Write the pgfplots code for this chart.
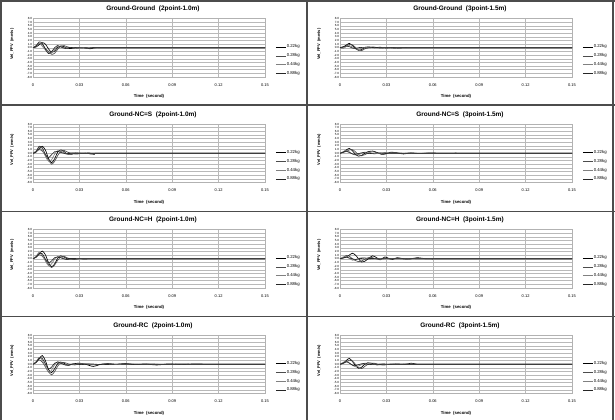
\documentclass[border=0pt]{standalone}
\usepackage{fontspec}
\setmainfont{Liberation Sans}
\usepackage{pgfplots}
\pgfplotsset{compat=1.18}
\newcommand\ptitle[1]{\node[anchor=center, font=\fontsize{6.5}{7}\selectfont\bfseries] at (rel axis cs:0.517,1.16) {#1};}
\pgfplotsset{
  panel/.style={
    width=232bp, height=58.5bp, scale only axis, anchor=south west, clip=false,
    xmin=0, xmax=0.15, ymin=-8, ymax=8,
    xtick={0,0.03,0.06,0.09,0.12,0.15},
    xticklabels={0,0.03,0.06,0.09,0.12,0.15},
    ytick={-8,-7,-6,-5,-4,-3,-2,-1,0,1,2,3,4,5,6,7,8},
    yticklabels={-8.0,-7.0,-6.0,-5.0,-4.0,-3.0,-2.0,-1.0,0.0,1.0,2.0,3.0,4.0,5.0,6.0,7.0,8.0},
    grid=major, major grid style={gray!55, line width=0.4bp},
    axis line style={gray!60, line width=0.4bp},
    tick style={draw=none},
    xticklabel style={font=\fontsize{4}{4.5}\selectfont, yshift=-3bp},
    yticklabel style={font=\fontsize{3}{3.2}\selectfont, inner sep=0.8bp},
    xlabel={\textbf{Time\ \ (second)}},
    xlabel style={at={(axis description cs:0.5,-0.34)}, anchor=center, font=\fontsize{4.3}{5}\selectfont},
    ylabel={\textbf{Vel\_PPV\ \ (mm/s)}},
    ylabel style={at={(axis description cs:-0.09,0.56)}, anchor=center, font=\fontsize{4}{5}\selectfont},
    legend style={at={(axis description cs:1.045,0.565)}, anchor=north west, draw=none, fill=none,
      font=\fontsize{4.3}{5}\selectfont, inner sep=0pt, row sep=3.3bp,
      nodes={inner sep=0.5bp}, cells={anchor=west}},
    legend image code/.code={\draw[#1] (0bp,0bp) -- (10bp,0bp);},
    every axis plot/.append style={smooth, tension=0.5, line width=0.65bp},
    cycle list={{black},{black!70},{black!50},{black!85}},
  }
}
\begin{document}
\begin{tikzpicture}
\useasboundingbox (0bp,0bp) rectangle (615bp,420bp);
% ---------- Row 1 ----------
\begin{axis}[panel, at={(33bp,343bp)}]
\addplot coordinates {(0,0)(0.002,0.2)(0.004,0.8)(0.006,1.4)(0.008,1.0)(0.010,-0.3)(0.012,-1.2)(0.014,-0.9)(0.016,0.1)(0.018,0.5)(0.020,0.3)(0.022,-0.1)(0.025,-0.2)(0.028,0.1)(0.032,0.0)(0.036,-0.2)(0.040,0.05)(0.045,0)(0.150,0)};
\addplot coordinates {(0,0)(0.002,0.4)(0.004,1.1)(0.006,0.9)(0.008,-0.2)(0.010,-1.0)(0.012,-1.8)(0.014,-1.5)(0.016,-0.4)(0.018,0.4)(0.020,0.6)(0.022,0.3)(0.025,-0.1)(0.028,-0.1)(0.032,0.1)(0.037,-0.3)(0.042,0.1)(0.048,0)(0.150,0)};
\addplot coordinates {(0,0)(0.002,0.6)(0.004,1.3)(0.006,0.4)(0.008,-0.6)(0.010,-1.3)(0.012,-1.5)(0.014,-0.5)(0.016,0.4)(0.018,0.3)(0.021,-0.1)(0.024,0.1)(0.028,-0.1)(0.033,0.05)(0.040,0)(0.150,0)};
\addplot coordinates {(0,0)(0.002,0.5)(0.004,1.6)(0.006,1.2)(0.008,-0.4)(0.010,-1.6)(0.012,-1.1)(0.014,0.0)(0.016,0.6)(0.018,0.2)(0.021,-0.2)(0.024,0.1)(0.029,-0.1)(0.035,0.0)(0.038,-0.2)(0.044,0)(0.150,0)};
\legend{0.22kg,0.28kg,0.44kg,0.88kg}
\ptitle{Ground-Ground\ \ (2point-1.0m)}
\end{axis}
\begin{axis}[panel, at={(340bp,343bp)}]
\addplot coordinates {(0,0)(0.002,0.2)(0.004,0.7)(0.006,1.2)(0.008,0.6)(0.010,-0.2)(0.012,-0.7)(0.014,-0.5)(0.016,0.1)(0.019,0.2)(0.022,0.0)(0.026,0.15)(0.030,-0.1)(0.034,0.1)(0.038,-0.1)(0.043,0.05)(0.048,0)(0.150,0)};
\addplot coordinates {(0,0)(0.002,0.1)(0.004,0.4)(0.006,0.9)(0.008,0.8)(0.010,0.1)(0.012,-0.6)(0.014,-0.8)(0.016,-0.3)(0.019,0.1)(0.022,0.2)(0.026,-0.1)(0.030,0.1)(0.035,-0.15)(0.040,0.05)(0.046,0)(0.150,0)};
\addplot coordinates {(0,0)(0.002,-0.2)(0.004,0.3)(0.006,0.6)(0.008,0.2)(0.010,-0.3)(0.012,-0.4)(0.015,0.0)(0.018,0.2)(0.021,0.0)(0.025,-0.1)(0.030,0.1)(0.036,0)(0.150,0)};
\addplot coordinates {(0,0)(0.002,0.3)(0.004,0.5)(0.006,0.3)(0.008,-0.1)(0.010,-0.2)(0.013,0.1)(0.017,-0.1)(0.022,0.1)(0.028,-0.05)(0.034,0)(0.150,0)};
\legend{0.22kg,0.28kg,0.44kg,0.88kg}
\ptitle{Ground-Ground\ \ (3point-1.5m)}
\end{axis}
% ---------- Row 2 ----------
\begin{axis}[panel, at={(33bp,237.5bp)}]
\addplot coordinates {(0,0)(0.002,0.3)(0.004,1.2)(0.006,1.9)(0.008,0.9)(0.010,-1.4)(0.012,-2.6)(0.014,-1.5)(0.016,0.3)(0.018,0.9)(0.020,0.5)(0.022,-0.2)(0.025,-0.3)(0.028,0.1)(0.032,-0.1)(0.036,0.1)(0.040,-0.3)(0.044,0)(0.150,0)};
\addplot coordinates {(0,0)(0.002,0.5)(0.004,1.0)(0.006,0.6)(0.008,-0.5)(0.010,-1.8)(0.012,-3.0)(0.014,-2.2)(0.016,-0.6)(0.018,0.5)(0.020,0.8)(0.022,0.4)(0.025,-0.1)(0.029,-0.2)(0.033,0.1)(0.038,0)(0.150,0)};
\addplot coordinates {(0,0)(0.002,0.6)(0.004,1.6)(0.006,0.8)(0.008,-0.8)(0.010,-2.2)(0.012,-1.8)(0.014,-0.2)(0.016,0.7)(0.018,0.6)(0.021,-0.1)(0.024,-0.2)(0.028,0.1)(0.034,0)(0.150,0)};
\addplot coordinates {(0,0)(0.002,0.4)(0.004,1.9)(0.006,1.5)(0.008,-0.3)(0.010,-1.2)(0.012,-0.4)(0.014,0.4)(0.016,0.5)(0.019,0.1)(0.022,-0.2)(0.026,0.1)(0.031,0)(0.150,0)};
\legend{0.22kg,0.28kg,0.44kg,0.88kg}
\ptitle{Ground-NC=S\ \ (2point-1.0m)}
\end{axis}
\begin{axis}[panel, at={(340bp,237.5bp)}]
\addplot coordinates {(0,0)(0.002,0.3)(0.004,0.9)(0.006,1.3)(0.008,0.7)(0.010,-0.3)(0.012,-0.8)(0.014,-0.6)(0.016,0.0)(0.018,0.4)(0.021,0.6)(0.024,0.2)(0.027,-0.3)(0.030,-0.1)(0.033,0.3)(0.037,0.1)(0.041,-0.2)(0.046,0.1)(0.052,-0.1)(0.058,0.1)(0.065,0)(0.075,0.05)(0.085,0)(0.150,0)};
\addplot coordinates {(0,0)(0.002,0.2)(0.004,0.5)(0.006,0.9)(0.008,1.0)(0.010,0.4)(0.012,-0.4)(0.014,-0.7)(0.016,-0.4)(0.019,0.2)(0.022,0.4)(0.025,0.0)(0.028,-0.3)(0.032,0.1)(0.036,0.2)(0.040,-0.1)(0.045,0.1)(0.050,-0.1)(0.056,0.05)(0.062,0)(0.150,0)};
\addplot coordinates {(0,0)(0.002,0.4)(0.004,0.8)(0.006,0.4)(0.008,-0.2)(0.010,-0.5)(0.013,-0.2)(0.016,0.3)(0.019,0.2)(0.022,-0.2)(0.026,0.1)(0.030,0.2)(0.034,-0.1)(0.040,0.1)(0.047,0)(0.150,0)};
\addplot coordinates {(0,0)(0.002,0.3)(0.004,0.6)(0.006,0.2)(0.009,-0.3)(0.012,-0.1)(0.015,0.2)(0.019,-0.1)(0.024,0.1)(0.030,-0.05)(0.036,0)(0.150,0)};
\legend{0.22kg,0.28kg,0.44kg,0.88kg}
\ptitle{Ground-NC=S\ \ (3point-1.5m)}
\end{axis}
% ---------- Row 3 ----------
\begin{axis}[panel, at={(33bp,132bp)}]
\addplot coordinates {(0,0)(0.002,0.4)(0.004,1.3)(0.006,2.1)(0.008,1.1)(0.010,-1.0)(0.012,-2.2)(0.014,-1.4)(0.016,0.2)(0.018,0.8)(0.020,0.5)(0.023,-0.2)(0.026,-0.2)(0.030,0.1)(0.035,-0.1)(0.040,0)(0.150,0)};
\addplot coordinates {(0,0)(0.002,0.5)(0.004,1.1)(0.006,0.7)(0.008,-0.4)(0.010,-1.6)(0.012,-2.4)(0.014,-1.7)(0.016,-0.4)(0.018,0.5)(0.020,0.7)(0.022,0.3)(0.025,-0.2)(0.029,-0.1)(0.033,0.1)(0.038,0)(0.150,0)};
\addplot coordinates {(0,0)(0.002,0.7)(0.004,1.8)(0.006,1.0)(0.008,-0.6)(0.010,-1.9)(0.012,-1.4)(0.014,-0.1)(0.016,0.6)(0.018,0.5)(0.021,-0.1)(0.024,-0.2)(0.028,0.1)(0.033,0)(0.150,0)};
\addplot coordinates {(0,0)(0.002,0.5)(0.004,1.5)(0.006,1.4)(0.008,-0.1)(0.010,-1.1)(0.012,-0.6)(0.014,0.3)(0.016,0.5)(0.019,0.1)(0.022,-0.2)(0.026,0.1)(0.031,0)(0.150,0)};
\legend{0.22kg,0.28kg,0.44kg,0.88kg}
\ptitle{Ground-NC=H\ \ (2point-1.0m)}
\end{axis}
\begin{axis}[panel, at={(340bp,132bp)}]
\addplot coordinates {(0,0)(0.002,0.2)(0.004,0.5)(0.006,1.0)(0.008,1.5)(0.010,1.0)(0.012,0.0)(0.014,-0.9)(0.016,-0.7)(0.018,-0.1)(0.021,0.8)(0.024,0.2)(0.026,-0.3)(0.029,0.5)(0.032,0.0)(0.034,-0.2)(0.037,0.3)(0.041,0.0)(0.045,-0.1)(0.050,0.3)(0.055,0.0)(0.060,-0.05)(0.070,0)(0.150,0)};
\addplot coordinates {(0,0)(0.002,0.3)(0.004,0.9)(0.006,0.7)(0.008,0.0)(0.010,-0.5)(0.012,-0.8)(0.014,-0.6)(0.017,0.1)(0.020,0.4)(0.023,0.0)(0.026,-0.2)(0.029,0.2)(0.033,-0.1)(0.037,0.1)(0.042,-0.1)(0.048,0.1)(0.055,0)(0.150,0)};
\addplot coordinates {(0,0)(0.002,0.5)(0.004,0.6)(0.006,0.1)(0.008,-0.4)(0.010,-0.3)(0.013,0.2)(0.016,0.3)(0.019,-0.1)(0.023,0.1)(0.027,-0.1)(0.032,0.1)(0.038,0)(0.150,0)};
\addplot coordinates {(0,0)(0.002,0.2)(0.004,0.4)(0.007,0.1)(0.010,-0.2)(0.013,0.1)(0.017,-0.1)(0.022,0.1)(0.028,0)(0.150,0)};
\legend{0.22kg,0.28kg,0.44kg,0.88kg}
\ptitle{Ground-NC=H\ \ (3point-1.5m)}
\end{axis}
% ---------- Row 4 ----------
\begin{axis}[panel, at={(33bp,26.5bp)}]
\addplot coordinates {(0,0)(0.002,0.5)(0.004,1.5)(0.006,2.4)(0.008,1.0)(0.010,-1.4)(0.012,-2.3)(0.014,-1.2)(0.016,0.2)(0.018,0.6)(0.020,0.3)(0.023,-0.3)(0.026,0.1)(0.030,0.3)(0.034,0.0)(0.039,-0.6)(0.043,-0.1)(0.048,0.2)(0.054,0.0)(0.060,0.2)(0.066,-0.1)(0.072,0.1)(0.080,-0.2)(0.088,0.1)(0.096,-0.1)(0.105,0.1)(0.115,0)(0.150,0)};
\addplot coordinates {(0,0)(0.002,0.6)(0.004,1.2)(0.006,0.6)(0.008,-0.7)(0.010,-2.0)(0.012,-2.9)(0.014,-2.0)(0.016,-0.5)(0.018,0.4)(0.020,0.5)(0.023,0.1)(0.027,-0.2)(0.031,0.2)(0.036,0.0)(0.041,-0.2)(0.047,0.1)(0.053,-0.1)(0.060,0.15)(0.068,-0.1)(0.076,0.1)(0.085,-0.1)(0.095,0.1)(0.108,0)(0.150,0)};
\addplot coordinates {(0,0)(0.002,0.7)(0.004,1.9)(0.006,1.1)(0.008,-0.6)(0.010,-2.2)(0.012,-1.6)(0.014,-0.1)(0.016,0.7)(0.018,0.4)(0.021,-0.2)(0.025,0.1)(0.029,-0.1)(0.034,0.15)(0.040,-0.1)(0.047,0.1)(0.055,-0.1)(0.064,0.1)(0.074,-0.05)(0.085,0)(0.150,0)};
\addplot coordinates {(0,0)(0.002,0.5)(0.004,1.7)(0.006,1.6)(0.008,0.1)(0.010,-1.3)(0.012,-0.8)(0.014,0.3)(0.016,0.6)(0.019,0.1)(0.022,-0.3)(0.026,0.1)(0.031,-0.1)(0.037,0.1)(0.045,-0.1)(0.055,0.05)(0.065,0)(0.150,0)};
\legend{0.22kg,0.28kg,0.44kg,0.88kg}
\ptitle{Ground-RC\ \ (2point-1.0m)}
\end{axis}
\begin{axis}[panel, at={(340bp,26.5bp)}]
\addplot coordinates {(0,0)(0.002,0.3)(0.004,1.0)(0.006,1.6)(0.008,0.8)(0.010,-0.4)(0.012,-1.1)(0.014,-0.8)(0.016,0.0)(0.018,0.4)(0.021,0.2)(0.024,-0.2)(0.028,0.1)(0.032,-0.1)(0.037,0.1)(0.042,-0.05)(0.046,0.3)(0.050,0.0)(0.056,0)(0.150,0)};
\addplot coordinates {(0,0)(0.002,0.2)(0.004,0.6)(0.006,1.1)(0.008,0.9)(0.010,0.0)(0.012,-0.9)(0.014,-1.2)(0.016,-0.6)(0.019,0.2)(0.022,0.3)(0.025,-0.1)(0.029,-0.2)(0.033,0.1)(0.038,0.0)(0.044,0.1)(0.050,0)(0.150,0)};
\addplot coordinates {(0,0)(0.002,0.5)(0.004,0.9)(0.006,0.4)(0.008,-0.3)(0.010,-0.7)(0.013,-0.3)(0.016,0.3)(0.019,0.2)(0.022,-0.1)(0.026,0.1)(0.031,-0.1)(0.037,0)(0.150,0)};
\addplot coordinates {(0,0)(0.002,0.3)(0.004,0.7)(0.006,0.3)(0.009,-0.4)(0.012,-0.1)(0.015,0.2)(0.019,-0.1)(0.024,0.1)(0.030,0)(0.150,0)};
\legend{0.22kg,0.28kg,0.44kg,0.88kg}
\ptitle{Ground-RC\ \ (3point-1.5m)}
\end{axis}
% ---------- panel frames ----------
\draw[line width=1.6bp, black!70] (1.2bp,0bp) -- (1.2bp,420bp);
\draw[line width=1.6bp, black!70] (306.7bp,0bp) -- (306.7bp,420bp);
\draw[line width=1.6bp, black!70] (612.7bp,0bp) -- (612.7bp,420bp);
\draw[line width=1.6bp, black!70] (0bp,419.2bp) -- (615bp,419.2bp);
\draw[line width=1.6bp, black!70] (0bp,315bp) -- (615bp,315bp);
\draw[line width=1.6bp, black!70] (0bp,208.3bp) -- (615bp,208.3bp);
\draw[line width=1.6bp, black!70] (0bp,103.3bp) -- (615bp,103.3bp);
\end{tikzpicture}
\end{document}
